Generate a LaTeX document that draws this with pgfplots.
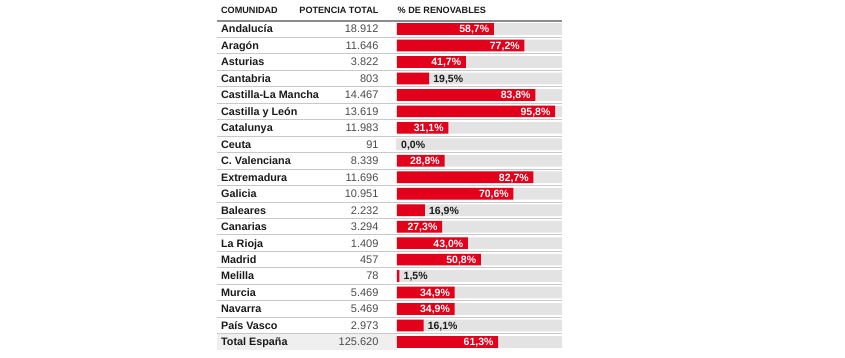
\documentclass[border=0pt]{standalone}
\usepackage{fontspec}
\setmainfont{Liberation Sans}
\usepackage{pgfplots}
\usepackage{pgfplotstable}
\pgfplotsset{compat=1.18}
\definecolor{redbar}{HTML}{E2001A}
\definecolor{barbg}{HTML}{E3E3E3}
\definecolor{sepline}{HTML}{C8C8C8}
\definecolor{headline}{HTML}{8C8C8C}
\definecolor{totalbg}{HTML}{EFEFEF}
\definecolor{txt}{HTML}{1A1A1A}
\definecolor{numtxt}{HTML}{4A4A4A}
\pgfplotstableread{
idx name total pct
0 Andalucía 18912 58.7
1 Aragón 11646 77.2
2 Asturias 3822 41.7
3 Cantabria 803 19.5
4 {Castilla-La Mancha} 14467 83.8
5 {Castilla y León} 13619 95.8
6 Catalunya 11983 31.1
7 Ceuta 91 0.0
8 {C. Valenciana} 8339 28.8
9 Extremadura 11696 82.7
10 Galicia 10951 70.6
11 Baleares 2232 16.9
12 Canarias 3294 27.3
13 {La Rioja} 1409 43.0
14 Madrid 457 50.8
15 Melilla 78 1.5
16 Murcia 5469 34.9
17 Navarra 5469 34.9
18 {País Vasco} 2973 16.1
19 {Total España} 125620 61.3
}\datatable
\begin{document}
\begin{tikzpicture}
\path[use as bounding box] (-397bp,-7.8bp) rectangle (448bp,350.2bp);
\begin{axis}[
  at={(0,0)}, anchor=south west,
  scale only axis, width=165bp, height=329.4bp,
  xmin=0, xmax=100, ymin=-0.5, ymax=19.5,
  y dir=reverse, hide axis, clip=false,
]
% total row background
\fill[totalbg] (axis cs:-109.1,18.5) rectangle (axis cs:0,19.5);
% gray background bars
\addplot[xbar, bar shift=0pt, bar width=11.7bp, fill=barbg, draw=none] table[x expr=100, y=idx] {\datatable};
% red bars
\addplot[xbar, bar shift=0pt, bar width=11.7bp, fill=redbar, draw=none] table[x=pct, y=idx] {\datatable};
% separators
\pgfplotsinvokeforeach{0,...,18}{
  \draw[sepline, line width=0.9bp] (axis cs:-109.1,#1+0.5) -- (axis cs:100.3,#1+0.5);
}
\draw[headline, line width=1.4bp] (axis cs:-109.1,-0.5) -- (axis cs:100.3,-0.5);
% labels inside bars
\addplot[draw=none, mark=none, restrict x to domain=20:1000, point meta=x,
  nodes near coords={\pgfmathprintnumber[fixed, fixed zerofill, precision=1, use comma, assume math mode=true]{\pgfplotspointmeta}\%},
  nodes near coords style={anchor=base east, xshift=-4.5bp, yshift=-3.9bp, inner sep=0pt, text=white, font=\bfseries\fontsize{10.5bp}{12bp}\selectfont}]
  table[x=pct, y=idx] {\datatable};
% labels outside bars
\addplot[draw=none, mark=none, restrict x to domain=-1:19.99, point meta=x,
  nodes near coords={\pgfmathprintnumber[fixed, fixed zerofill, precision=1, use comma, assume math mode=true]{\pgfplotspointmeta}\%},
  nodes near coords style={anchor=base west, xshift=4bp, yshift=-3.9bp, inner sep=0pt, text=txt, font=\bfseries\fontsize{10.5bp}{12bp}\selectfont}]
  table[x=pct, y=idx] {\datatable};
% names
\addplot[draw=none, mark=none, point meta=explicit symbolic,
  nodes near coords={\pgfplotspointmeta},
  nodes near coords style={anchor=base west, yshift=-3.9bp, inner sep=0pt, text=txt, font=\bfseries\fontsize{10.8bp}{12bp}\selectfont}]
  table[x expr=-106.7, y=idx, meta=name] {\datatable};
% totals
\addplot[draw=none, mark=none,
  point meta={\thisrow{total}},
  nodes near coords={\pgfmathprintnumber[fixed, precision=0, 1000 sep={.}, assume math mode=true]{\pgfplotspointmeta}},
  nodes near coords style={anchor=base east, yshift=-3.9bp, inner sep=0pt, text=numtxt, font=\fontsize{11bp}{12bp}\selectfont}]
  table[x expr=-11.1, y=idx] {\datatable};
% headers
\node[anchor=base west, inner sep=0pt, text=txt, font=\bfseries\fontsize{9.1bp}{10bp}\selectfont] at (axis cs:-106.7,-0.93) {COMUNIDAD};
\node[anchor=base east, inner sep=0pt, text=txt, font=\bfseries\fontsize{9.1bp}{10bp}\selectfont] at (axis cs:-11.1,-0.93) {POTENCIA TOTAL};
\node[anchor=base west, inner sep=0pt, text=txt, font=\bfseries\fontsize{9.1bp}{10bp}\selectfont] at (axis cs:0.3,-0.93) {\% DE RENOVABLES};
\end{axis}
\end{tikzpicture}
\end{document}
